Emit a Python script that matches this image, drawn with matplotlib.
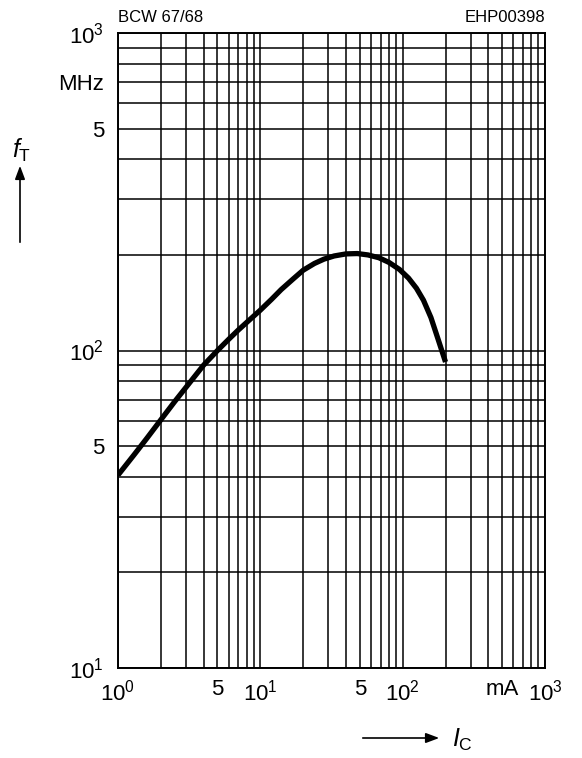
import matplotlib
matplotlib.use("Agg")
import matplotlib.pyplot as plt
from matplotlib.patches import FancyArrowPatch
from matplotlib.ticker import LogLocator, NullFormatter

# collector current Ic (mA) and transition frequency fT (MHz)
ic_ma = [1.0, 1.3, 1.6, 2.0, 2.5, 3.0, 4.0, 5.0, 6.0, 7.0, 8.5, 10.0, 12.0, 14.0, 17.0, 20.0,
         24.0, 28.0, 33.0, 40.0, 48.0, 57.0, 68.0, 80.0, 95.0, 110.0, 125.0, 140.0, 158.0, 178.0, 200.0]
ft_mhz = [40.5, 47.0, 53.0, 60.5, 69.0, 76.5, 90.0, 100.0, 108.5, 116.0, 125.5, 134.0, 145.0, 155.5, 168.0, 179.0,
          188.0, 194.0, 198.5, 201.5, 202.0, 200.0, 196.0, 189.5, 180.0, 169.0, 157.0, 144.0, 127.0, 108.0, 92.0]

x_ticks = [1, 5, 10, 50, 100, 500, 1000]
x_labels = ["$10^0$", "5", "$10^1$", "5", "$10^2$", "mA", "$10^3$"]
y_ticks = [10, 50, 100, 500, 700, 1000]
y_labels = ["$10^1$", "5", "$10^2$", "5", "MHz", "$10^3$"]

plt.rcParams["font.family"] = ["Liberation Sans", "DejaVu Sans"]
plt.rcParams["mathtext.fontset"] = "custom"
plt.rcParams["mathtext.rm"] = "Liberation Sans"
plt.rcParams["mathtext.it"] = "Liberation Sans:italic"

fig = plt.figure(figsize=(5.82, 7.58), dpi=100)
ax = fig.add_axes([118 / 582, 90 / 758, 427 / 582, 635 / 758])

ax.set_xscale("log")
ax.set_yscale("log")
ax.set_xlim(1, 1000)
ax.set_ylim(10, 1000)

ax.plot(ic_ma, ft_mhz, color="black", linewidth=3.8, solid_capstyle="butt",
        solid_joinstyle="round", zorder=3)

# full log grid, every 1..9 of each decade
for axis in (ax.xaxis, ax.yaxis):
    axis.set_minor_locator(LogLocator(base=10, subs=range(2, 10)))
    axis.set_minor_formatter(NullFormatter())
ax.grid(which="both", color="black", linewidth=1.1)

ax.set_xticks(x_ticks)
ax.set_xticklabels(x_labels, fontsize=16)
ax.set_yticks(y_ticks)
ax.set_yticklabels(y_labels, fontsize=16)
ax.tick_params(which="both", length=0, pad=8)
ax.tick_params(axis="y", pad=10)
for s in ax.spines.values():
    s.set_linewidth(1.4)

fig.text(118 / 582, 1 - 17 / 758, "BCW 67/68", fontsize=12, ha="left", va="center")
fig.text(545 / 582, 1 - 17 / 758, "EHP00398", fontsize=12, ha="right", va="center")

# axis names with arrows
arrow_style = "-|>,head_length=8,head_width=3"
fig.text(22 / 582, 1 - 150 / 758, "$f_\\mathrm{T}$", fontsize=18, ha="center", va="center")
fig.add_artist(FancyArrowPatch((20 / 582, 1 - 245 / 758), (20 / 582, 1 - 163 / 758),
                               transform=fig.transFigure, arrowstyle=arrow_style,
                               color="black", linewidth=1.2, mutation_scale=1))
fig.text(462 / 582, 1 - 740 / 758, "$I_\\mathrm{C}$", fontsize=18, ha="center", va="center")
fig.add_artist(FancyArrowPatch((360 / 582, 1 - 738 / 758), (442 / 582, 1 - 738 / 758),
                               transform=fig.transFigure, arrowstyle=arrow_style,
                               color="black", linewidth=1.2, mutation_scale=1))

fig.savefig("out.png", dpi=100)
